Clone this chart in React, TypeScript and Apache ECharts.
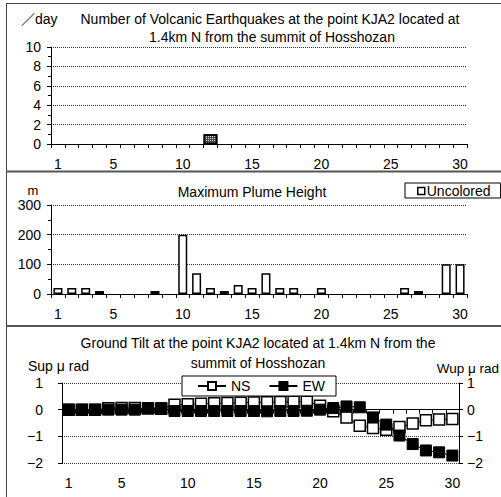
import React, { useEffect, useRef } from "react";
import * as echarts from "echarts";

const days = ["1","2","3","4","5","6","7","8","9","10","11","12","13","14","15","16","17","18","19","20","21","22","23","24","25","26","27","28","29","30"];

const quakeCounts = [0,0,0,0,0,0,0,0,0,0,0,1,0,0,0,0,0,0,0,0,0,0,0,0,0,0,0,0,0,0];

const plumeHeights = [20,20,20,10,0,0,0,10,0,200,70,20,10,30,20,70,20,20,0,20,0,0,0,0,0,20,10,0,100,100];

const tiltNS = [0,0,0,0.05,0.06,0.06,0.04,0.03,0.18,0.2,0.22,0.24,0.25,0.26,0.27,0.28,0.29,0.3,0.3,0.15,-0.06,-0.29,-0.6,-0.69,-0.75,-0.65,-0.52,-0.4,-0.37,-0.35];

const tiltEW = [0,0,0,0,0,0,0.06,0.06,-0.05,-0.05,-0.05,-0.05,-0.05,-0.05,-0.05,-0.06,-0.05,-0.05,-0.04,0,0.06,0.12,0.09,-0.29,-0.56,-0.97,-1.29,-1.53,-1.6,-1.72];

const quakeTicks = { min: 0, max: 10, interval: 2 };
const plumeTicks = { min: 0, max: 300, interval: 100 };
const tiltTicks = { min: -2, max: 1, interval: 1 };

const FONT = '"Liberation Sans", Arial, "Noto Sans CJK JP", sans-serif';

export default function App() {
  const ref = useRef<HTMLDivElement>(null);
  useEffect(() => {
    if (!ref.current) return;
    const chart = echarts.init(ref.current, null, { renderer: "svg" });

    const showLabel = (index: number) => index === 0 || (index + 1) % 5 === 0;
    const minus = (v: number) => String(v).replace("-", "−");

    const xAxisBase = (gridIndex: number) => ({
      type: "category",
      gridIndex,
      data: days,
      boundaryGap: true,
      axisLine: { show: true, lineStyle: { color: "#000", width: 1 } },
      axisTick: { show: true, interval: 0, inside: false, length: 4, lineStyle: { color: "#000" } },
      axisLabel: { interval: showLabel, margin: 13, fontSize: 14, color: "#000", fontFamily: FONT },
      splitLine: { show: false },
    });

    const yAxisBase = (gridIndex: number, t: any, minor: boolean, margin: number) => ({
      type: "value",
      gridIndex,
      min: t.min,
      max: t.max,
      interval: t.interval,
      axisLine: { show: true, lineStyle: { color: "#000", width: 1 } },
      axisTick: { show: true, inside: false, length: 4, lineStyle: { color: "#000" } },
      minorTick: { show: minor, splitNumber: 2, length: 3, lineStyle: { color: "#000" } },
      splitLine: { show: true, lineStyle: { color: "#333", type: [1, 1], width: 1 } },
      axisLabel: { margin, fontSize: 14, color: "#000", fontFamily: FONT, formatter: minus },
    });

    const txt = (text: string, x: number, y: number, align = "center", size = 14) => ({
      type: "text",
      x,
      y,
      z: 100,
      style: {
        text,
        font: `${size}px ${FONT}`,
        fill: "#000",
        align,
        textAlign: align,
        verticalAlign: "middle",
        textVerticalAlign: "middle",
      },
    });

    const option: any = {
      animation: false,
      backgroundColor: "#fff",
      grid: [
        { left: 51, right: 34, top: 47, height: 97 },
        { left: 51, right: 34, top: 205, height: 89 },
        { left: 62, right: 42, top: 383, height: 80 },
      ],
      xAxis: [xAxisBase(0), xAxisBase(1), xAxisBase(2)],
      yAxis: [
        yAxisBase(0, quakeTicks, true, 10),
        yAxisBase(1, plumeTicks, true, 10),
        yAxisBase(2, tiltTicks, false, 19),
        { ...yAxisBase(2, tiltTicks, false, 8), position: "right", splitLine: { show: false } },
      ],
      legend: [
        {
          data: ["Uncolored"],
          left: 405,
          top: 183,
          icon: "rect",
          itemWidth: 7,
          itemHeight: 7,
          itemGap: 0,
          padding: [1, 10, 0, 12],
          borderColor: "#000",
          borderWidth: 1,
          backgroundColor: "#fff",
          itemStyle: { color: "#fff", borderColor: "#000", borderWidth: 1.5 },
          textStyle: { fontSize: 14, color: "#000", fontFamily: FONT, padding: [0, 0, 0, -3] },
        },
        {
          data: ["NS", "EW"],
          left: 182,
          top: 376,
          itemWidth: 28,
          itemHeight: 10,
          itemGap: 18,
          padding: [3, 11, 3, 15],
          borderColor: "#000",
          borderWidth: 1,
          backgroundColor: "#fff",
          textStyle: { fontSize: 14, color: "#000", fontFamily: FONT },
        },
      ],
      series: [
        {
          type: "bar",
          name: "Earthquakes",
          xAxisIndex: 0,
          yAxisIndex: 0,
          data: quakeCounts.map((v) => (v === 0 ? null : v)),
          barWidth: "100%",
          itemStyle: {
            color: "#444",
            borderColor: "#000",
            borderWidth: 1.5,
            decal: {
              symbol: "rect",
              symbolSize: 1,
              color: "#ddd",
              dashArrayX: [1, 1],
              dashArrayY: [1, 1],
              rotation: 0,
            },
          },
        },
        {
          type: "bar",
          name: "Uncolored",
          xAxisIndex: 1,
          yAxisIndex: 1,
          data: plumeHeights.map((v) => (v === 0 ? null : v)),
          barWidth: "65%",
          itemStyle: { color: "#fff", borderColor: "#000", borderWidth: 1.5 },
        },
        {
          type: "line",
          name: "NS",
          xAxisIndex: 2,
          yAxisIndex: 2,
          data: tiltNS,
          symbol: "rect",
          symbolSize: 11,
          showAllSymbol: true,
          lineStyle: { color: "#000", width: 1 },
          itemStyle: { color: "#fff", borderColor: "#000", borderWidth: 1.5 },
          z: 3,
        },
        {
          type: "line",
          name: "EW",
          xAxisIndex: 2,
          yAxisIndex: 2,
          data: tiltEW,
          symbol: "rect",
          symbolSize: 11,
          showAllSymbol: true,
          lineStyle: { color: "#000", width: 1 },
          itemStyle: { color: "#000", borderColor: "#000", borderWidth: 1 },
          z: 4,
        },
      ],
      graphic: [
        { type: "line", z: 50, shape: { x1: 6.5, y1: 3, x2: 6.5, y2: 497 }, style: { stroke: "#444", lineWidth: 1 } },
        { type: "line", z: 50, shape: { x1: 6, y1: 3.5, x2: 501, y2: 3.5 }, style: { stroke: "#444", lineWidth: 1 } },
        { type: "line", z: 50, shape: { x1: 6, y1: 171.5, x2: 501, y2: 171.5 }, style: { stroke: "#555", lineWidth: 2 } },
        { type: "line", z: 50, shape: { x1: 6, y1: 326, x2: 501, y2: 326 }, style: { stroke: "#555", lineWidth: 2 } },
        txt("／day", 21, 19, "left"),
        txt("Number of Volcanic Earthquakes at the point KJA2 located at", 270, 19),
        txt("1.4km N from the summit of Hosshozan", 272, 37),
        txt("m", 33, 190, "center", 13),
        txt("Maximum Plume Height", 252, 192),
        txt("Ground Tilt at the point KJA2 located at 1.4km N from the", 258, 343),
        txt("summit of Hosshozan", 258, 363),
        txt("Sup μ rad", 28, 366, "left"),
        txt("Wup μ rad", 499, 368, "right", 13.5),
      ],
    };

    chart.setOption(option);
    return () => chart.dispose();
  }, []);

  return (
    <div
      ref={ref}
      style={{ position: "absolute", left: 0, top: 0, width: 501, height: 497 }}
    />
  );
}
